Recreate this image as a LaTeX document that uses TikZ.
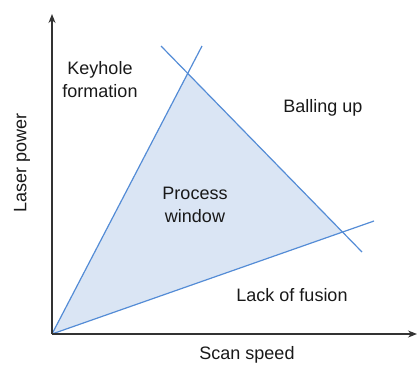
\documentclass[tikz,border=0pt]{standalone}
\usepackage{fontspec}
\setmainfont{Liberation Sans}
\usetikzlibrary{arrows.meta}
\definecolor{lineblue}{RGB}{84,140,214}
\definecolor{fillblue}{RGB}{218,229,244}
\tikzset{
  axis/.style={line width=1.3pt, draw=black!80, -{Stealth[length=9pt,width=7pt]}},
  bound/.style={line width=1.2pt, draw=lineblue},
  lbl/.style={font=\fontsize{18}{23}\selectfont, align=center, text=black!90, inner sep=0pt}
}
\begin{document}
\begin{tikzpicture}[x=1pt,y=-1pt]
\useasboundingbox (0,0) rectangle (417,365);
\coordinate (O) at (52,334);
\coordinate (Ytop) at (52,14);
\coordinate (Xend) at (417,334);
\coordinate (A) at (202,46);
\coordinate (B) at (161,46);
\coordinate (C) at (362,252);
\coordinate (D) at (374,221);
\coordinate (P) at (intersection of O--A and B--C);
\coordinate (Q) at (intersection of B--C and O--D);
\fill[fillblue] (O) -- (P) -- (Q) -- cycle;
\draw[bound] (O) -- (A);
\draw[bound] (B) -- (C);
\draw[bound] (O) -- (D);
\draw[axis] (O) -- (Ytop);
\draw[axis] (O) -- (Xend);
\node[lbl] (kh) at (100,80) {Keyhole\\formation};
\node[lbl] (bu) at (323,108) {Balling up};
\node[lbl] (pw) at (195,205) {Process\\window};
\node[lbl] (lf) at (292,295) {Lack of fusion};
\node[lbl] (ss) at (247,355) {Scan speed};
\node[lbl, rotate=90] (lp) at (22,163) {Laser power};
\end{tikzpicture}
\end{document}
